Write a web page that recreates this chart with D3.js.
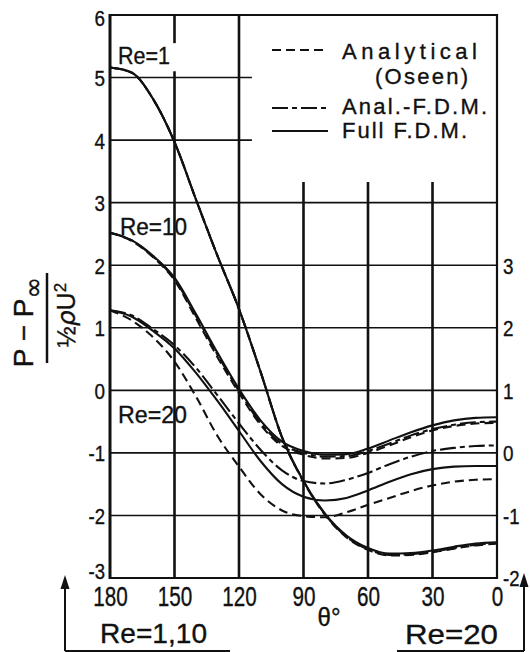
<!DOCTYPE html>
<html>
<head>
<meta charset="utf-8">
<script src="https://cdn.jsdelivr.net/npm/d3@7"></script>
<style>
  html, body { margin: 0; padding: 0; background: #fff; }
  svg { display: block; }
  text { font-family: "Liberation Sans", Arimo, sans-serif; fill: #111; stroke: #111; stroke-width: 0.35; }
</style>
</head>
<body>
<svg id="chart" width="530" height="652"></svg>
<script>
// Angle from the front stagnation point (deg), shared by every series
const theta = [180,170,160,150,140,130,120,110,100,90,80,70,60,50,40,30,20,10,0];

// Re = 1 and Re = 10 : read on the left axis
const re1Full   = [5.16,5.08,4.66,3.97,3.05,2.15,1.30,0.30,-0.75,-1.45,-1.97,-2.32,-2.52,-2.61,-2.60,-2.56,-2.50,-2.45,-2.43];
const re1Anal   = [5.16,5.08,4.66,3.97,3.05,2.15,1.30,0.30,-0.75,-1.45,-1.98,-2.34,-2.54,-2.63,-2.62,-2.58,-2.52,-2.47,-2.44];
const re1Oseen  = [5.16,5.08,4.66,3.97,3.05,2.15,1.30,0.30,-0.75,-1.46,-1.99,-2.35,-2.55,-2.64,-2.63,-2.59,-2.53,-2.48,-2.45];

const re10Full  = [2.52,2.40,2.15,1.80,1.22,0.60,0.02,-0.48,-0.82,-0.97,-1.03,-1.02,-0.93,-0.80,-0.67,-0.56,-0.48,-0.44,-0.43];
const re10Anal  = [2.52,2.40,2.14,1.78,1.19,0.57,-0.01,-0.52,-0.86,-1.00,-1.06,-1.05,-0.97,-0.85,-0.72,-0.62,-0.55,-0.51,-0.50];
const re10Oseen = [2.52,2.39,2.13,1.76,1.15,0.53,-0.04,-0.55,-0.89,-1.03,-1.09,-1.08,-1.00,-0.88,-0.75,-0.64,-0.57,-0.53,-0.52];

// Re = 20 : read on the right axis
const re20Full  = [2.28,2.18,1.95,1.67,1.28,0.83,0.35,-0.13,-0.50,-0.70,-0.76,-0.72,-0.60,-0.46,-0.34,-0.26,-0.22,-0.21,-0.21];
const re20Anal  = [2.28,2.20,1.98,1.72,1.36,0.92,0.47,0.05,-0.28,-0.45,-0.49,-0.43,-0.32,-0.18,-0.06,0.03,0.08,0.11,0.12];
const re20Oseen = [2.28,2.12,1.85,1.46,0.90,0.27,-0.22,-0.66,-0.92,-1.01,-1.03,-0.95,-0.83,-0.72,-0.61,-0.52,-0.46,-0.43,-0.42];

// Axis ticks
const thetaTicks = [180,150,120,90,60,30,0];
const leftTicks  = [6,5,4,3,2,1,0,-1,-2,-3];
const rightTicks = [3,2,1,0,-1,-2];

// Legend entries
const legendItems = [
  { label: "Analytical", style: "dashed" },
  { label: "Anal.-F.D.M.", style: "dashdot" },
  { label: "Full F.D.M.", style: "solid" }
];

const dashes = { dashed: "9,5", dashdot: "16,4,5,4", solid: null };

const svg = d3.select("#chart");
const plot = { left: 110, right: 497, top: 15, bottom: 578 };

const x  = d3.scaleLinear().domain([180, 0]).range([plot.left, plot.right]);
const yL = d3.scaleLinear().domain([-3, 6]).range([plot.bottom, plot.top]);
const yR = d3.scaleLinear().domain([-2, 7]).range([plot.bottom, plot.top]);

const ink = "#111";
const fmt = d => d < 0 ? "-" + Math.abs(d) : String(d);
// narrow lettering: width from digit count
const narrowWidth = (s, digitW, dashW) => s.split("").reduce((w, c) => w + (c === "-" ? dashW : digitW), 0);

// ---- grid ----
const grid = svg.append("g").attr("stroke", ink).attr("fill", "none");
// horizontal lines; the upper ones stop short of the legend
leftTicks.forEach(v => {
  const xEnd = (v === 5 || v === 4) ? x(114) : plot.right;
  grid.append("line")
    .attr("x1", plot.left).attr("x2", xEnd)
    .attr("y1", yL(v)).attr("y2", yL(v))
    .attr("stroke-width", v === 6 || v === -3 ? 2 : 1.6);
});
// vertical lines
thetaTicks.forEach(t => {
  if (t === 180 || t === 0) return;
  const topV = (t <= 90) ? 3.33 : 6;
  if (t === 150) {
    grid.append("line").attr("x1", x(t)).attr("x2", x(t)).attr("y1", yL(6)).attr("y2", yL(5.55)).attr("stroke-width", 2.6);
    grid.append("line").attr("x1", x(t)).attr("x2", x(t)).attr("y1", yL(5.1)).attr("y2", yL(-3)).attr("stroke-width", 2.6);
  } else {
    grid.append("line").attr("x1", x(t)).attr("x2", x(t)).attr("y1", yL(topV)).attr("y2", yL(-3)).attr("stroke-width", 2.6);
  }
});
// frame sides
grid.append("line").attr("x1", plot.left).attr("x2", plot.left).attr("y1", plot.top - 1).attr("y2", plot.bottom + 1).attr("stroke-width", 3);
grid.append("line").attr("x1", plot.right).attr("x2", plot.right).attr("y1", plot.top - 1).attr("y2", plot.bottom + 1).attr("stroke-width", 2.2);

// ---- axes ----
const axL = svg.append("g").attr("transform", `translate(${plot.left},0)`)
  .call(d3.axisLeft(yL).tickValues(leftTicks).tickSize(0).tickPadding(5).tickFormat(fmt));
const axR = svg.append("g").attr("transform", `translate(${plot.right},0)`)
  .call(d3.axisRight(yR).tickValues(rightTicks).tickSize(0).tickPadding(6).tickFormat(fmt));
const axB = svg.append("g").attr("transform", `translate(0,${plot.bottom})`)
  .call(d3.axisBottom(x).tickValues(thetaTicks).tickSize(0).tickPadding(9).tickFormat(fmt));
[axL, axR, axB].forEach(a => {
  a.select(".domain").remove();
  a.selectAll("text").attr("font-family", null).attr("fill", ink);
});
// end labels sit slightly inside the frame corners
const leftShift = d => d === 6 ? 3 : d === -3 ? -7 : 0;
axL.selectAll("text").attr("font-size", 22).attr("dy", "0.36em")
  .attr("y", d => leftShift(d))
  .attr("textLength", d => narrowWidth(fmt(d), 10.5, 6)).attr("lengthAdjust", "spacingAndGlyphs");
axR.selectAll("text").attr("font-size", 22).attr("dy", "0.36em")
  .attr("textLength", d => narrowWidth(fmt(d), 10.5, 6)).attr("lengthAdjust", "spacingAndGlyphs");
axB.selectAll("text").attr("font-size", 27).attr("dy", "0.71em")
  .attr("textLength", d => narrowWidth(fmt(d), 11.5, 6)).attr("lengthAdjust", "spacingAndGlyphs");

// ---- curves ----
const lineL = d3.line().x((d, i) => x(theta[i])).y(d => yL(d)).curve(d3.curveMonotoneX);
const lineR = d3.line().x((d, i) => x(theta[i])).y(d => yR(d)).curve(d3.curveMonotoneX);

const series = [
  { data: re1Oseen,  gen: lineL, style: "dashed" },
  { data: re1Anal,   gen: lineL, style: "dashdot" },
  { data: re1Full,   gen: lineL, style: "solid" },
  { data: re10Oseen, gen: lineL, style: "dashed" },
  { data: re10Anal,  gen: lineL, style: "dashdot" },
  { data: re10Full,  gen: lineL, style: "solid" },
  { data: re20Oseen, gen: lineR, style: "dashed" },
  { data: re20Anal,  gen: lineR, style: "dashdot" },
  { data: re20Full,  gen: lineR, style: "solid" }
];
svg.append("g").selectAll("path").data(series).join("path")
  .attr("d", s => s.gen(s.data))
  .attr("fill", "none")
  .attr("stroke", ink)
  .attr("stroke-width", 2.1)
  .attr("stroke-dasharray", s => dashes[s.style]);

// ---- curve labels ----
const tag = svg.append("g").attr("font-size", 23);
tag.append("text").attr("x", 118).attr("y", 64).attr("textLength", 52).attr("lengthAdjust", "spacingAndGlyphs").text("Re=1");
tag.append("text").attr("x", 120).attr("y", 235).attr("textLength", 67).attr("lengthAdjust", "spacingAndGlyphs").text("Re=10");
tag.append("text").attr("x", 118).attr("y", 423).attr("textLength", 69).attr("lengthAdjust", "spacingAndGlyphs").text("Re=20");

// ---- legend ----
const leg = svg.append("g");
const legRows = [50, 108, 131];
legendItems.forEach((it, i) => {
  leg.append("line")
    .attr("x1", 272).attr("x2", 328)
    .attr("y1", legRows[i]).attr("y2", legRows[i])
    .attr("stroke", ink).attr("stroke-width", 2)
    .attr("stroke-dasharray", dashes[it.style]);
});
const legText = [
  { t: "Analytical", x: 342, y: 59, w: 135 },
  { t: "(Oseen)", x: 375, y: 84, w: 93 },
  { t: "Anal.-F.D.M.", x: 342, y: 114, w: 145 },
  { t: "Full F.D.M.", x: 342, y: 138, w: 125 }
];
legText.forEach(d => {
  leg.append("text").attr("x", d.x).attr("y", d.y).attr("font-size", 22)
    .attr("textLength", d.w).attr("lengthAdjust", "spacing").text(d.t);
});

// ---- axis titles ----
svg.append("text").attr("x", 329).attr("y", 626).attr("font-size", 26).attr("text-anchor", "middle")
  .attr("textLength", 23).attr("lengthAdjust", "spacingAndGlyphs").text("θ°");

const yt = svg.append("g").attr("transform", "translate(47,318) rotate(-90)");
yt.append("line").attr("x1", -45).attr("x2", 45).attr("y1", 0).attr("y2", 0).attr("stroke", ink).attr("stroke-width", 2.5);
const num = yt.append("text").attr("x", -4).attr("y", -14).attr("font-size", 28).attr("text-anchor", "middle");
num.append("tspan").text("P − P");
num.append("tspan").attr("dy", 9).attr("font-size", 26).attr("font-family", "DejaVu Sans").text("∞");
const den = yt.append("text").attr("x", 3).attr("y", 28).attr("font-size", 25).attr("text-anchor", "middle");
den.append("tspan").text("½");
den.append("tspan").attr("font-family", "DejaVu Sans").attr("font-style", "italic").text("ρ");
den.append("tspan").text("U");
den.append("tspan").attr("dy", -9).attr("font-size", 17).text("2");

// ---- Re range arrows under the axis ----
const arrows = svg.append("g").attr("stroke", ink).attr("stroke-width", 2).attr("fill", "none");
arrows.append("path").attr("d", "M65,651 V584 M65,651 H230");
arrows.append("path").attr("d", "M524,651 V582 M397,651 H524");
svg.append("path").attr("d", "M65,575 L60.5,589 L69.5,589 Z").attr("fill", ink);
svg.append("path").attr("d", "M524,573 L519.5,587 L528.5,587 Z").attr("fill", ink);

svg.append("text").attr("x", 100).attr("y", 643).attr("font-size", 28).attr("textLength", 107).attr("lengthAdjust", "spacingAndGlyphs").text("Re=1,10");
svg.append("text").attr("x", 405).attr("y", 644).attr("font-size", 28).attr("textLength", 93).attr("lengthAdjust", "spacingAndGlyphs").text("Re=20");
</script>
</body>
</html>
